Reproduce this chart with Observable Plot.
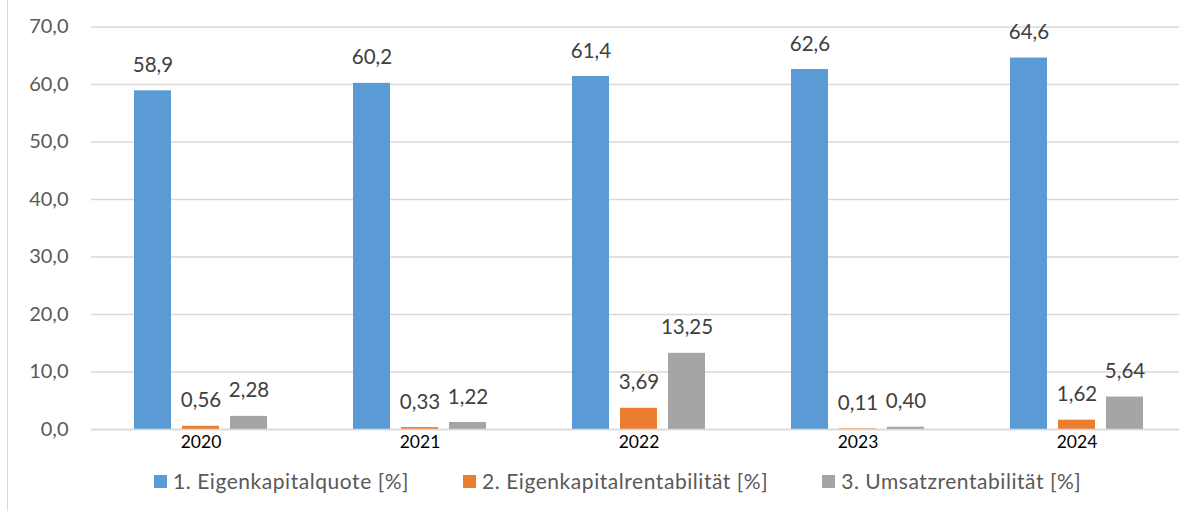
<!DOCTYPE html>
<html><head><meta charset="utf-8">
<script src="https://cdn.jsdelivr.net/npm/d3@7"></script>
<script src="https://cdn.jsdelivr.net/npm/@observablehq/plot@0.6"></script>
<style>
body{margin:0;background:#fff;overflow:hidden;width:1179px;height:511px;font-family:Lato,sans-serif;}
#wrap{position:relative;width:1179px;height:511px;overflow:hidden;}
#border{position:absolute;left:7px;top:0;width:1px;height:511px;background:#d9d9d9;}
#chart{position:absolute;left:0;top:0;width:1188px;}
#chart svg{max-width:none !important;}
#legend{position:absolute;left:154px;top:469px;display:flex;align-items:center;font-size:21px;letter-spacing:0.55px;line-height:24px;color:#595959;white-space:nowrap;}
.item{display:flex;align-items:center;margin-right:54px;}
.sw{width:13px;height:13px;margin-right:6px;}
</style></head><body>
<div id="wrap"><div id="border"></div><div id="chart"></div><div id="legend"></div></div>
<script>
const years = ["2020","2021","2022","2023","2024"];
const seriesNames = ["1. Eigenkapitalquote [%]","2. Eigenkapitalrentabilität [%]","3. Umsatzrentabilität [%]"];
const eigenkapitalquote = [58.9,60.2,61.4,62.6,64.6];
const eigenkapitalrentabilitaet = [0.56,0.33,3.69,0.11,1.62];
const umsatzrentabilitaet = [2.28,1.22,13.25,0.40,5.64];
const labelDecimals = [1,2,2];
const colors = ["#5B9BD5","#ED7D31","#A5A5A5"];
const yTicks = [0,10,20,30,40,50,60,70];

const fmt = (v,d) => v.toFixed(d).replace(".", ",");
const seriesValues = [eigenkapitalquote, eigenkapitalrentabilitaet, umsatzrentabilitaet];
const rows = [];
years.forEach((yr,i) => seriesNames.forEach((s,j) => {
  rows.push({year: yr, series: s, value: seriesValues[j][i], label: fmt(seriesValues[j][i], labelDecimals[j])});
}));

const chart = Plot.plot({
  width: 1188, height: 455,
  marginLeft: 89, marginRight: 0, marginTop: 26.5, marginBottom: 26,
  style: {fontFamily: "Lato, sans-serif", background: "transparent", overflow: "visible", maxWidth: "none"},
  fx: {domain: years, padding: 0, label: null},
  x: {domain: seriesNames, paddingInner: 0.2213, paddingOuter: 0.8617, axis: null},
  y: {domain: [0,70]},
  color: {domain: seriesNames, range: colors},
  marks: [
    Plot.gridY(yTicks, {stroke: "#d9d9d9", strokeOpacity: 1, strokeWidth: 1.3}),
    Plot.axisY(yTicks, {tickSize: 0, tickPadding: 23, tickFormat: d => fmt(d,1), fontSize: 20, fill: "#595959", label: null}),
    Plot.barY(rows, {fx: "year", x: "series", y: "value", fill: "series"}),
    Plot.ruleY([0], {stroke: "#d9d9d9", strokeWidth: 1.3}),
    Plot.text(rows, {fx: "year", x: "series", y: "value", text: "label", dy: -25.5, fontSize: 20.5, fill: "#404040"}),
    Plot.axisFx({anchor: "bottom", tickSize: 0, tickPadding: 6, fontSize: 17.5, fill: "#000", label: null})
  ]
});
document.getElementById("chart").appendChild(chart);

const legend = document.getElementById("legend");
seriesNames.forEach((s,j) => {
  const it = document.createElement("div"); it.className = "item";
  const sw = document.createElement("div"); sw.className = "sw"; sw.style.background = colors[j];
  const tx = document.createElement("span"); tx.textContent = s;
  it.appendChild(sw); it.appendChild(tx); legend.appendChild(it);
});
</script>
</body></html>
